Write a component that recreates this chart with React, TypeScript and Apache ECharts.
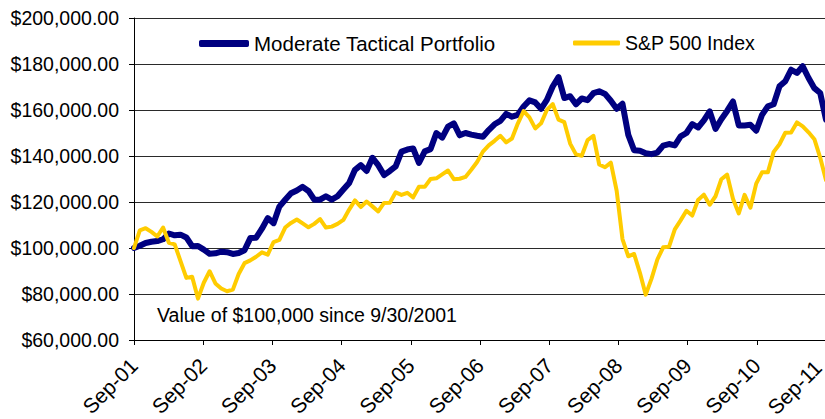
import React, { useEffect, useRef } from 'react';
import * as echarts from 'echarts';

// Values in thousands of dollars, month-end, starting 9/30/2001 = 100
const portfolio = [
  100, 101, 102.2, 102.7, 103, 103.8, 106.3, 105.5, 105.8, 104.6,
  100.8, 100.9, 99.3, 97.5, 97.7, 98.4, 98.2, 97.4, 97.8, 99,
  104.3, 104.5, 108.4, 113, 110.8, 118, 121, 123.8, 125, 126.6,
  124.8, 121, 121, 122.5, 121, 122.5, 125.4, 128.3, 134, 136,
  133.5, 139.2, 136, 131.7, 133.5, 135.5, 141.9, 142.8, 143.3, 137,
  142, 143, 150, 148, 152.8, 154.2, 149, 150, 149.3, 148.8,
  148.4, 151.3, 153.8, 155.3, 158.3, 157.1, 157.9, 161.5, 164.2, 163.3,
  160.5, 164.4, 170.2, 174.3, 165.2, 166, 162.5, 165, 164.3, 167.3,
  168.1, 167, 164, 160.5, 162.7, 149.2, 142.5, 142.3, 141.2, 140.8,
  141.5, 144.5, 145.2, 144.6, 148.5, 150, 153.9, 152.4, 155.5, 159.4,
  151.8, 156, 159.6, 163.7, 153.3, 153.3, 153.6, 151, 157.9, 161.6,
  162.5, 170.3, 172.5, 177.5, 176.1, 179, 173.9, 169.5, 167.4, 155.8,
];

const sp500 = [
  100, 107.7, 108.6, 107, 105, 108.9, 102.3, 101.6, 94.3, 87,
  87.5, 78, 84.9, 89.9, 84.6, 82.4, 81.2, 81.9, 88.7, 93.4,
  94.6, 96.2, 98.1, 97.1, 102.6, 103.5, 108.9, 110.9, 112.4, 110.7,
  109, 110.5, 112.6, 108.9, 109.3, 110.5, 112.2, 116.7, 120.7, 117.8,
  120.2, 118.1, 115.9, 119.6, 119.7, 124.2, 123.1, 124, 122, 126.6,
  126.6, 130, 130.3, 132, 133.7, 129.9, 130.1, 130.9, 134, 137.4,
  141.9, 144.6, 146.6, 148.8, 145.9, 147.6, 154.1, 159.5, 156.8, 152,
  154.2, 160, 162.6, 155.8, 154.7, 145.4, 140.7, 140.1, 146.9, 148.8,
  136.3, 135.1, 137.1, 124.9, 103.9, 96.4, 97.4, 89.2, 79.7, 86.7,
  95, 100.3, 100.5, 108.1, 112, 116.2, 114.1, 120.9, 123.2, 118.8,
  122.5, 129.9, 131.9, 121.4, 115, 123.1, 117.5, 128, 132.9, 132.9,
  141.8, 145.1, 150.1, 150.2, 154.6, 152.9, 150.3, 147.3, 139.3, 129.5,
];

const yearLabels = [
  'Sep-01', 'Sep-02', 'Sep-03', 'Sep-04', 'Sep-05', 'Sep-06',
  'Sep-07', 'Sep-08', 'Sep-09', 'Sep-10', 'Sep-11',
];

const monthNames = ['Sep', 'Oct', 'Nov', 'Dec', 'Jan', 'Feb', 'Mar', 'Apr', 'May', 'Jun', 'Jul', 'Aug'];
const months = portfolio.map((_, k) => {
  const yr = 1 + Math.floor((k + 8) / 12);
  return `${monthNames[k % 12]}-${String(yr).padStart(2, '0')}`;
});

const seriesNames = ['Moderate Tactical Portfolio', 'S&P 500 Index'];
const noteText = 'Value of $100,000 since 9/30/2001';

const FONT = "'Liberation Sans', Arial, Helvetica, sans-serif";
const LAST = yearLabels.length - 1;

export default function App() {
  const ref = useRef<HTMLDivElement>(null);

  useEffect(() => {
    if (!ref.current) return;
    const chart = echarts.init(ref.current, undefined, { renderer: 'svg' });
    chart.setOption({
      animation: false,
      backgroundColor: '#ffffff',
      textStyle: { fontFamily: FONT, color: '#000' },
      grid: {
        left: 134,
        top: 18,
        width: 692,
        height: 322,
        containLabel: false,
        outerBoundsMode: 'none',
      },
      legend: [
        {
          left: 199,
          top: 33,
          padding: 0,
          icon: 'roundRect',
          itemWidth: 50,
          itemHeight: 7,
          data: [seriesNames[0]],
          textStyle: { fontSize: 20.5, color: '#000', fontFamily: FONT },
        },
        {
          left: 573,
          top: 33,
          padding: 0,
          icon: 'roundRect',
          itemWidth: 47,
          itemHeight: 5,
          data: [seriesNames[1]],
          textStyle: { fontSize: 19.5, color: '#000', fontFamily: FONT },
        },
      ],
      xAxis: [
        {
          type: 'category',
          data: months,
          boundaryGap: false,
          show: false,
        },
        {
          type: 'value',
          min: 0,
          max: LAST,
          interval: 1,
          position: 'bottom',
          axisLine: { show: true, lineStyle: { color: '#000', width: 1 } },
          axisTick: { show: true, length: 5, lineStyle: { color: '#000' } },
          splitLine: { show: false },
          axisLabel: {
            rotate: 45,
            margin: 22,
            fontSize: 21,
            color: '#000',
            fontFamily: FONT,
            formatter: (v: number) => {
              const i = Math.round(v);
              return i === LAST ? '' : yearLabels[i] ?? '';
            },
          },
        },
      ],
      yAxis: {
        type: 'value',
        min: 60,
        max: 200,
        interval: 20,
        axisLine: { show: true, lineStyle: { color: '#000', width: 1 } },
        axisTick: { show: true, length: 5, lineStyle: { color: '#000' } },
        splitLine: { show: true, lineStyle: { color: '#2a2a2a', width: 1 } },
        axisLabel: {
          margin: 15,
          fontSize: 19.5,
          color: '#000',
          fontFamily: FONT,
          formatter: (v: number) => `$${v},000.00`,
        },
      },
      series: [
        {
          name: seriesNames[0],
          type: 'line',
          xAxisIndex: 0,
          data: portfolio,
          showSymbol: false,
          symbol: 'none',
          lineStyle: { color: '#000080', width: 6, join: 'round', cap: 'round' },
          itemStyle: { color: '#000080' },
        },
        {
          name: seriesNames[1],
          type: 'line',
          xAxisIndex: 0,
          data: sp500,
          showSymbol: false,
          symbol: 'none',
          lineStyle: { color: '#FFCC00', width: 4, join: 'round', cap: 'round' },
          itemStyle: { color: '#FFCC00' },
        },
      ],
      graphic: [
        {
          type: 'text',
          left: 157,
          top: 305,
          style: {
            text: noteText,
            font: `19.5px ${FONT}`,
            fill: '#000',
          },
        },
        {
          type: 'text',
          x: 818,
          y: 364,
          rotation: Math.PI / 4,
          style: {
            text: yearLabels[LAST],
            font: `21px ${FONT}`,
            fill: '#000',
            align: 'right',
            verticalAlign: 'middle',
          },
        },
      ],
    });
    return () => chart.dispose();
  }, []);

  return (
    <div
      ref={ref}
      style={{ position: 'absolute', left: 0, top: 0, width: 825, height: 419 }}
    />
  );
}
